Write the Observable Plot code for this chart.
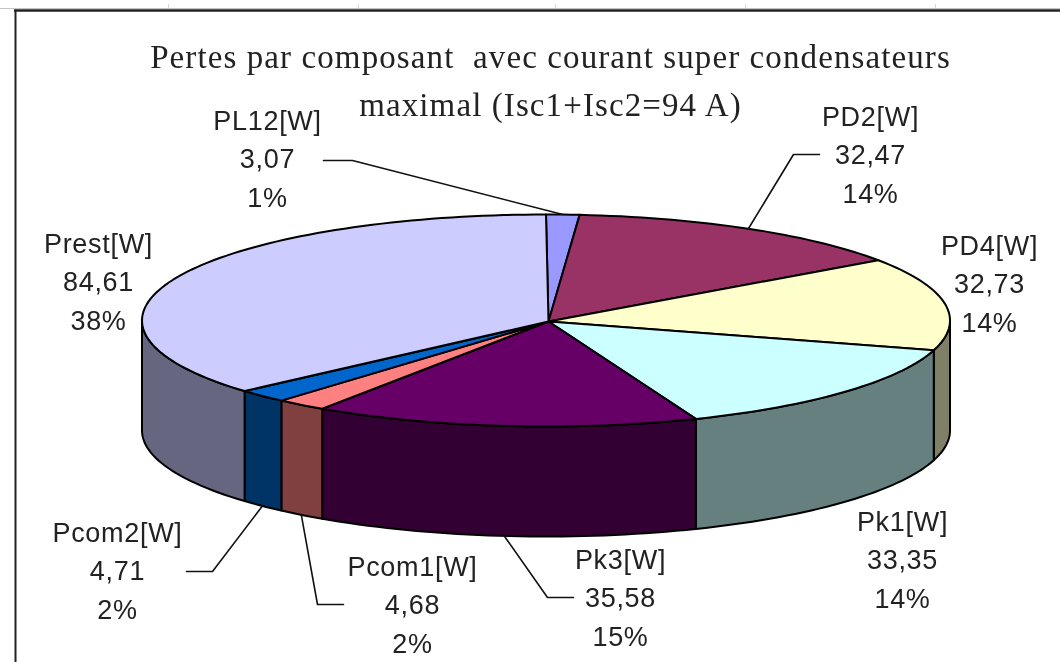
<!DOCTYPE html>
<html>
<head>
<meta charset="utf-8">
<script src="https://cdn.jsdelivr.net/npm/d3@7"></script>
<script src="https://cdn.jsdelivr.net/npm/@observablehq/plot@0.6"></script>
<style>
html,body{margin:0;padding:0;background:#fff;overflow:hidden}
svg{display:block;filter:blur(0.45px)}
g[font-family="Liberation Serif"]{letter-spacing:1.1px}
g[font-family="Liberation Sans"]{letter-spacing:0.7px}
</style>
</head>
<body>
<div id="chart"></div>
<script>
// Data
const names = ["PL12[W]","PD2[W]","PD4[W]","Pk1[W]","Pk3[W]","Pcom1[W]","Pcom2[W]","Prest[W]"];
const watts = [3.07,32.47,32.73,33.35,35.58,4.68,4.71,84.61];
const percents = ["1%","14%","14%","14%","15%","2%","2%","38%"];
const topColors = ["#9999FF","#993366","#FFFFCC","#CCFFFF","#660066","#FF8080","#0066CC","#CCCCFF"];
const sideColors = ["#4C4C80","#4C1A33","#808066","#668080","#330033","#804040","#003366","#666680"];
const titleLines = ["Pertes par composant\u00a0 avec courant super condensateurs","maximal (Isc1+Isc2=94 A)"];

// Pie projection
const pie = {cx:545.5, cy:320, rx:404, ry:106, depth:110, apexX:548, apexY:321};
// Label layout: first-line baseline of each label and the free part of its leader
const labelBox = [
  {x:267,y:129,leader:[[323,160],[352,160]]},
  {x:870,y:125,leader:[[819,154],[793,154]]},
  {x:989,y:254,leader:null},
  {x:902,y:530,leader:null},
  {x:620,y:568,leader:[[573,597],[547,597]]},
  {x:412,y:575,leader:[[343,604],[317,604]]},
  {x:117,y:541,leader:[[186,571],[212,571]]},
  {x:98,y:252,leader:null}
];
const rowGap = 38.5;

const total = d3.sum(watts);
const cum = d3.cumsum(watts);
const rad = d => d * Math.PI / 180;
const toDeg = v => v / total * 360;
const px = a => pie.cx + pie.rx * Math.sin(rad(a));
const py = a => pie.cy - pie.ry * Math.cos(rad(a));

const slices = names.map((name,i)=>({
  name, i, value:watts[i], pct:percents[i],
  a0:toDeg(i?cum[i-1]:0), a1:toDeg(cum[i]),
  top:topColors[i], side:sideColors[i]
}));

function arc(a0,a1){
  const n = Math.max(2,Math.ceil((a1-a0)/1.5));
  return d3.range(n+1).map(k=>a0+(a1-a0)*k/n);
}
const apex = {x:pie.apexX,y:pie.apexY};
const topPts = slices.flatMap(s=>{
  const pts=[apex,...arc(s.a0,s.a1).map(a=>({x:px(a),y:py(a)})),apex];
  return pts.map(p=>({...p,id:s.name,color:s.top}));
});
const sidePts = slices.flatMap(s=>{
  const a0=Math.max(s.a0,90), a1=Math.min(s.a1,270);
  if(a1<=a0) return [];
  const as=arc(a0,a1);
  const pts=[...as.map(a=>({x:px(a),y:py(a)})),...as.slice().reverse().map(a=>({x:px(a),y:py(a)+pie.depth}))];
  pts.push(pts[0]);
  return pts.map(p=>({...p,id:s.name,color:s.side}));
});
const leaderPts = slices.flatMap(s=>{
  const box=labelBox[s.i];
  if(!box.leader) return [];
  const mid=(s.a0+s.a1)/2;
  const front=mid>90&&mid<270;
  const anchor={x:px(mid),y:py(mid)+(front?pie.depth:0)};
  return [...box.leader.map(([x,y])=>({x,y})),anchor].map(p=>({...p,id:s.name}));
});
const labelRows = slices.flatMap(s=>{
  const b=labelBox[s.i];
  return [s.name,s.value.toFixed(2).replace(".",","),s.pct].map((t,k)=>({t,x:b.x,y:b.y+k*rowGap}));
});

const plot = Plot.plot({
  width:1060,height:662,margin:0,
  x:{domain:[0,1060],range:[0,1060],axis:null},
  y:{domain:[0,662],range:[0,662],axis:null},
  color:{type:"identity"},
  marks:[
    // chart frame and the faint sheet grid line above it
    Plot.ruleY([8],{x1:0,x2:1060,stroke:"#c4c4c4",strokeWidth:1}),
    Plot.ruleX([168,358,555,745,935],{y1:4,y2:8,stroke:"#d8d8d8",strokeWidth:1}),
    Plot.ruleY([10],{x1:14,x2:1060,stroke:"#222",strokeWidth:2.4}),
    Plot.ruleX([15],{y1:10,y2:662,stroke:"#222",strokeWidth:2}),
    Plot.line(sidePts,{x:"x",y:"y",z:"id",fill:"color",stroke:"#000",strokeWidth:2,curve:"linear"}),
    Plot.line(topPts,{x:"x",y:"y",z:"id",fill:"color",stroke:"#000",strokeWidth:2,curve:"linear"}),
    Plot.line(leaderPts,{x:"x",y:"y",z:"id",stroke:"#111",strokeWidth:1.6,curve:"linear"}),
    Plot.text(labelRows,{x:"x",y:"y",text:"t",lineAnchor:"bottom",textAnchor:"middle",fontSize:27,fontFamily:"Liberation Sans",fill:"#222"}),
    Plot.text(titleLines,{x:()=>550,y:(d,i)=>67+i*48,text:d=>d,lineAnchor:"bottom",textAnchor:"middle",fontSize:33,fontFamily:"Liberation Serif",fill:"#222"})
  ]
});
document.getElementById("chart").append(plot);
</script>
</body>
</html>
